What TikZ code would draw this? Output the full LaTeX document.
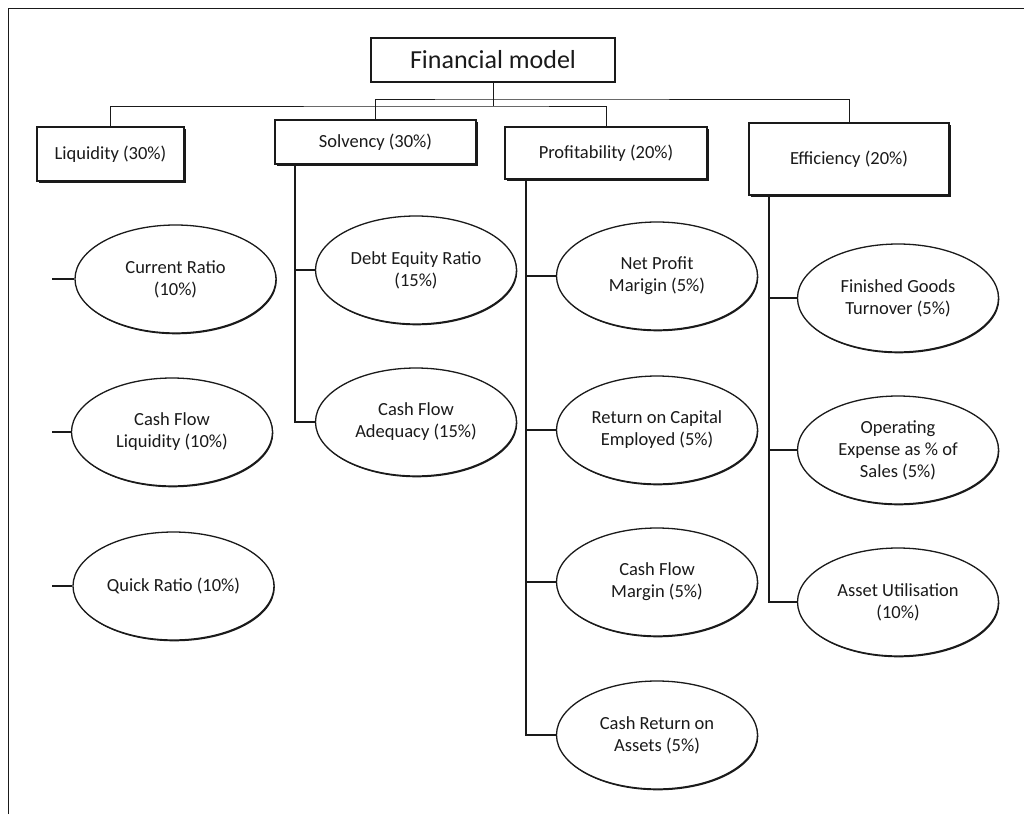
\documentclass[tikz,border=0pt]{standalone}
\usepackage{fontspec}
\setmainfont{Carlito}
\usetikzlibrary{shapes.geometric,shadows}
\definecolor{ink}{HTML}{1A1A1A}
\tikzset{
  catbox/.style={draw=ink, line width=1.3pt, fill=white, rectangle, inner sep=0pt,
    align=center, text=ink, font=\fontsize{18.5}{22}\selectfont,
    drop shadow={shadow xshift=2pt, shadow yshift=-2pt, fill=ink, opacity=1}},
  rootbox/.style={draw=ink, line width=1.3pt, fill=white, rectangle, inner sep=0pt,
    minimum width=244pt, minimum height=44pt, text=ink, font=\fontsize{26}{30}\selectfont},
  ratio/.style={draw=ink, line width=1.3pt, fill=white, ellipse, inner sep=0pt,
    minimum width=201pt, minimum height=108pt, align=center, text=ink,
    font=\fontsize{18.5}{22}\selectfont,
    drop shadow={shadow xshift=0.8pt, shadow yshift=-1.3pt, fill=ink, opacity=1}},
  bus/.style={draw=ink, line width=1pt},
  branch/.style={draw=ink, line width=1.8pt},
}
\begin{document}
\begin{tikzpicture}[x=1pt, y=-1pt]
\useasboundingbox (0,0) rectangle (1024,814);
\fill[white] (0,0) rectangle (1024,814);

% page frame (top and left edges only)
\draw[ink, line width=1pt] (8,814) -- (8,8) -- (1024,8);

% root and the four categories
\node[rootbox] (root) at (493,60) {Financial model};
\node[catbox, minimum width=147pt, minimum height=54pt] (liq)  at (110.5,154) {Liquidity (30\%)};
\node[catbox, minimum width=201pt, minimum height=44pt] (solv) at (375.5,142) {Solvency (30\%)};
\node[catbox, minimum width=202pt, minimum height=52pt] (prof) at (606,153)   {Profitability (20\%)};
\node[catbox, minimum width=200pt, minimum height=72pt] (eff)  at (849,159)   {Efficiency (20\%)};

% buses from the root to the categories
\coordinate (busA) at (493,106);
\coordinate (busB) at (493,99);
\draw[bus] (root.south) -- (busA);
\draw[bus] (liq.north) |- (busA) -| (prof.north);
\draw[bus] (solv.north) |- (busB) -| (eff.north);

% liquidity ratios
\node[ratio] (cr)  at (175.5,279) {Current Ratio\\(10\%)};
\node[ratio] (cfl) at (172,432)   {Cash Flow\\Liquidity (10\%)};
\node[ratio] (qr)  at (173.5,586) {Quick Ratio (10\%)};
\coordinate (l1) at (52,279);
\coordinate (l2) at (52,432);
\coordinate (l3) at (52,586);
\draw[branch] (l1) -- (cr.west);
\draw[branch] (l2) -- (cfl.west);
\draw[branch] (l3) -- (qr.west);

% solvency ratios
\node[ratio] (der) at (416,270) {Debt Equity Ratio\\(15\%)};
\node[ratio] (cfa) at (416,422) {Cash Flow\\Adequacy (15\%)};
\coordinate (sv) at ([xshift=21pt]solv.south west);
\draw[branch] (sv) |- (der.west);
\draw[branch] (sv) |- (cfa.west);

% profitability ratios
\node[ratio] (npm)  at (657,276) {Net Profit\\Marigin (5\%)};
\node[ratio] (roce) at (657,430) {Return on Capital\\Employed (5\%)};
\node[ratio] (cfm)  at (657,582) {Cash Flow\\Margin (5\%)};
\node[ratio] (cra)  at (657,735) {Cash Return on\\Assets (5\%)};
\coordinate (pv) at ([xshift=22pt]prof.south west);
\draw[branch] (pv) |- (npm.west);
\draw[branch] (pv) |- (roce.west);
\draw[branch] (pv) |- (cfm.west);
\draw[branch] (pv) |- (cra.west);

% efficiency ratios
\node[ratio] (fgt) at (898,298) {Finished Goods\\Turnover (5\%)};
\node[ratio] (oex) at (898,450) {Operating\\Expense as \% of\\Sales (5\%)};
\node[ratio] (au)  at (898,602) {Asset Utilisation\\(10\%)};
\coordinate (ev) at ([xshift=21pt]eff.south west);
\draw[branch] (ev) |- (fgt.west);
\draw[branch] (ev) |- (oex.west);
\draw[branch] (ev) |- (au.west);
\end{tikzpicture}
\end{document}
